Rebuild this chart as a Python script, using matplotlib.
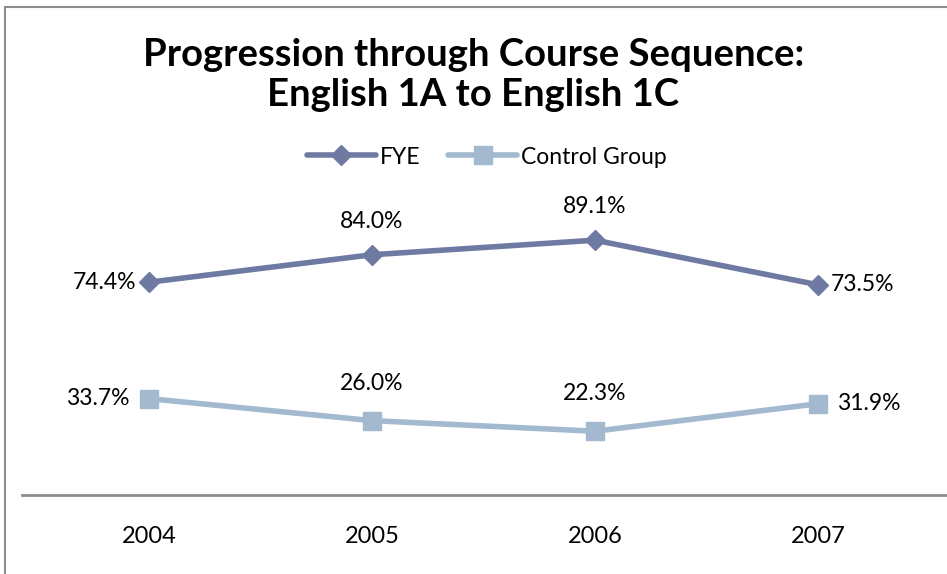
import matplotlib
matplotlib.use('Agg')
from matplotlib import pyplot as plt
from matplotlib.patches import Rectangle
import numpy as np

years = ['2004', '2005', '2006', '2007']
fye = [74.4, 84.0, 89.1, 73.5]
control = [33.7, 26.0, 22.3, 31.9]
fye_color = '#6f7aa3'
control_color = '#a2b9d0'

plt.rcParams['font.family'] = ['Lato', 'DejaVu Sans']

W, H = 947, 574
fig = plt.figure(figsize=(W / 100, H / 100), dpi=100)
fig.patch.set_facecolor('white')

# chart border (right and bottom edges are cut off in the reference)
fig.patches.append(Rectangle((5 / W, -0.1), 2.0, 1 - 7 / H + 0.1, transform=fig.transFigure,
                             fill=False, edgecolor='#8c8c8c', linewidth=1.5))

ax = fig.add_axes([22 / W, 1 - 495 / H, 1 - 22 / W, 286 / H])
x = np.arange(len(years))
ax.plot(x, fye, color=fye_color, linewidth=4, marker='D', markersize=10,
        label='FYE', solid_capstyle='round')
ax.plot(x, control, color=control_color, linewidth=4, marker='s', markersize=13,
        label='Control Group', solid_capstyle='round')

ax.set_xlim(-127 / 223, 3 + 129 / 223)
ax.set_ylim(0, 100)
for s in ['top', 'right', 'left']:
    ax.spines[s].set_visible(False)
ax.spines['bottom'].set_color('#8c8c8c')
ax.spines['bottom'].set_linewidth(2)
ax.set_yticks([])
ax.set_xticks(x)
ax.set_xticklabels(years, fontsize=17)
ax.tick_params(axis='x', length=0, pad=22)

fs = 16.5
# FYE labels
ax.annotate('%.1f%%' % fye[0], (x[0], fye[0]), xytext=(-9, 0), textcoords='offset points',
            ha='right', va='center', fontsize=fs)
ax.annotate('%.1f%%' % fye[1], (x[1], fye[1]), xytext=(0, 24), textcoords='offset points',
            ha='center', va='center', fontsize=fs)
ax.annotate('%.1f%%' % fye[2], (x[2], fye[2]), xytext=(0, 24), textcoords='offset points',
            ha='center', va='center', fontsize=fs)
ax.annotate('%.1f%%' % fye[3], (x[3], fye[3]), xytext=(9, 0), textcoords='offset points',
            ha='left', va='center', fontsize=fs)
# Control labels
ax.annotate('%.1f%%' % control[0], (x[0], control[0]), xytext=(-14, 0), textcoords='offset points',
            ha='right', va='center', fontsize=fs)
ax.annotate('%.1f%%' % control[1], (x[1], control[1]), xytext=(0, 27), textcoords='offset points',
            ha='center', va='center', fontsize=fs)
ax.annotate('%.1f%%' % control[2], (x[2], control[2]), xytext=(0, 27), textcoords='offset points',
            ha='center', va='center', fontsize=fs)
ax.annotate('%.1f%%' % control[3], (x[3], control[3]), xytext=(14, 0), textcoords='offset points',
            ha='left', va='center', fontsize=fs)

fig.text(0.5, 1 - 75 / H, 'Progression through Course Sequence:\nEnglish 1A to English 1C',
         ha='center', va='center', fontsize=27.5, fontweight='bold', linespacing=1.25)

fig.legend(loc='center', bbox_to_anchor=(487 / W, 1 - 157 / H), ncol=2, frameon=False,
           fontsize=16.5, handlelength=3, columnspacing=1.2, handletextpad=0.2)

fig.savefig('out.png', dpi=100)
